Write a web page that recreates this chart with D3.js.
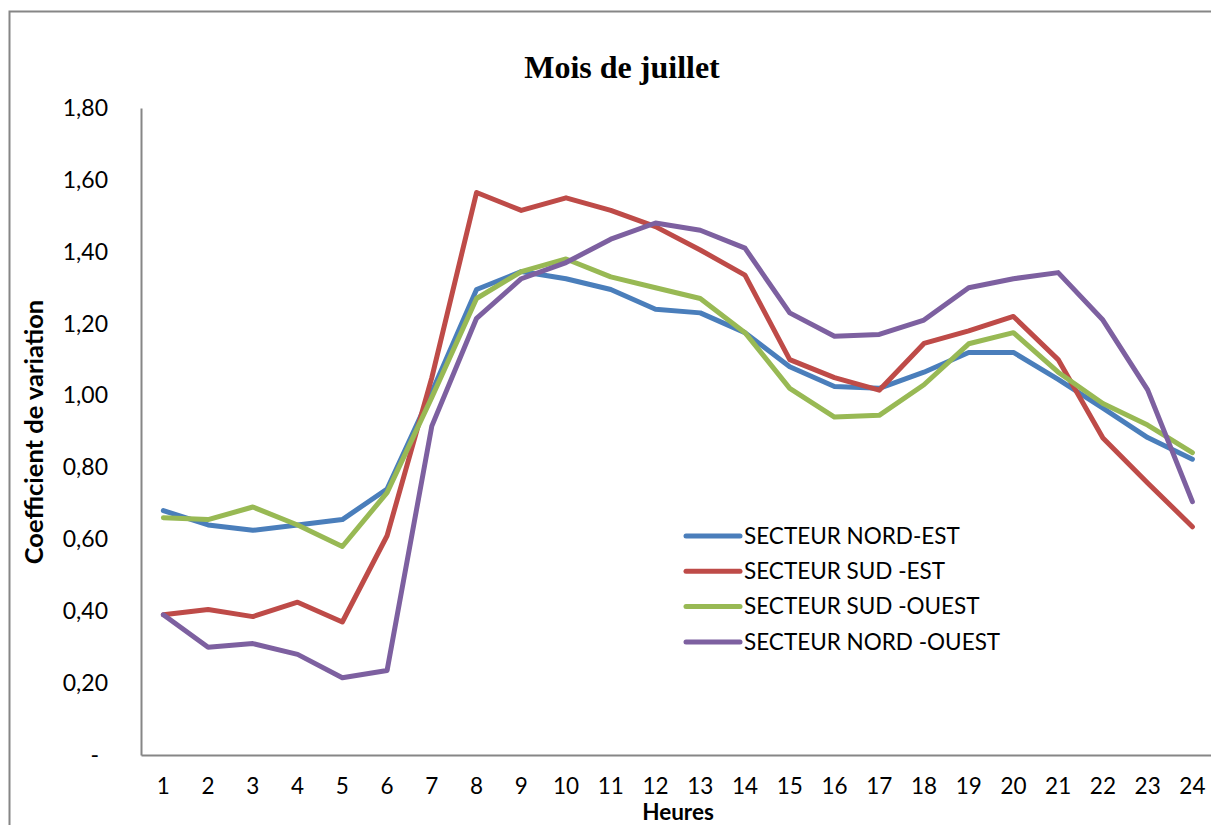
<!DOCTYPE html>
<html>
<head>
<meta charset="utf-8">
<script src="https://cdn.jsdelivr.net/npm/d3@7"></script>
<style>
  html, body { margin: 0; padding: 0; background: #fff; overflow: hidden; }
  svg { display: block; }
</style>
</head>
<body>
<div id="chart"></div>
<script>
// heures (categories) et coefficients par secteur
const heures = d3.range(1, 25).map(String);
const nordEst = [0.68, 0.64, 0.625, 0.64, 0.655, 0.74, 1.01, 1.295, 1.345, 1.325, 1.295, 1.24,
  1.23, 1.175, 1.08, 1.025, 1.02, 1.065, 1.12, 1.12, 1.045, 0.965, 0.883, 0.823];
const sudEst = [0.39, 0.405, 0.385, 0.425, 0.37, 0.61, 1.05, 1.565, 1.515, 1.55, 1.515, 1.47,
  1.405, 1.335, 1.10, 1.05, 1.015, 1.145, 1.18, 1.22, 1.10, 0.882, 0.757, 0.635];
const sudOuest = [0.66, 0.655, 0.69, 0.64, 0.58, 0.73, 0.995, 1.27, 1.345, 1.38, 1.33, 1.30,
  1.27, 1.175, 1.02, 0.94, 0.945, 1.03, 1.144, 1.175, 1.065, 0.978, 0.918, 0.841];
const nordOuest = [0.39, 0.30, 0.31, 0.28, 0.215, 0.235, 0.915, 1.215, 1.325, 1.37, 1.435, 1.48,
  1.46, 1.41, 1.23, 1.165, 1.17, 1.21, 1.30, 1.325, 1.342, 1.21, 1.016, 0.705];
const seriesNames = ['SECTEUR NORD-EST', 'SECTEUR SUD -EST', 'SECTEUR SUD -OUEST', 'SECTEUR NORD -OUEST'];
const yTicks = [0, 0.2, 0.4, 0.6, 0.8, 1.0, 1.2, 1.4, 1.6, 1.8];

const colors = ['#4A7EBB', '#BE4B48', '#98B954', '#7D60A0'];
const series = [nordEst, sudEst, sudOuest, nordOuest].map((values, i) => ({
  name: seriesNames[i], color: colors[i], values
}));

const width = 1211, height = 825;
const labelFont = 'Lato, "Open Sans", sans-serif';

const svg = d3.select('#chart').append('svg')
  .attr('width', width)
  .attr('height', height);

// cadre du graphique
svg.append('rect')
  .attr('x', 9.5).attr('y', 11.5)
  .attr('width', 1300).attr('height', 900)
  .attr('fill', '#fff')
  .attr('stroke', '#868686')
  .attr('stroke-width', 2);

const x = d3.scaleBand()
  .domain(heures)
  .range([141, 141 + 24 * 44.74])
  .padding(0);

const y = d3.scaleLinear()
  .domain([0, 1.8])
  .range([755, 108]);

const fr = d3.formatLocale({ decimal: ',', thousands: ' ', grouping: [3], currency: ['', '€'] });
const fmt = fr.format('.2f');

// axe Y
const yAxis = svg.append('g')
  .attr('transform', 'translate(141,0)')
  .call(d3.axisLeft(y).tickValues(yTicks).tickSize(0).tickPadding(33)
    .tickFormat(d => d === 0 ? '-' : fmt(d)));
yAxis.select('.domain').attr('stroke', '#868686').attr('stroke-width', 2);
yAxis.selectAll('text')
  .attr('font-family', labelFont)
  .attr('font-size', 23)
  .attr('fill', '#000')
  .attr('dx', d => d === 0 ? -9 : 0);

// axe X
const xAxis = svg.append('g')
  .attr('transform', 'translate(0,755)')
  .call(d3.axisBottom(x).tickSize(0).tickPadding(23));
xAxis.select('.domain').attr('stroke', '#868686').attr('stroke-width', 2);
xAxis.selectAll('text')
  .attr('font-family', labelFont)
  .attr('font-size', 22.5)
  .attr('fill', '#000');

// lignes
const line = d3.line()
  .x((d, i) => x(heures[i]) + x.bandwidth() / 2)
  .y(d => y(d));

svg.append('g').selectAll('path')
  .data(series)
  .join('path')
  .attr('d', d => line(d.values))
  .attr('fill', 'none')
  .attr('stroke', d => d.color)
  .attr('stroke-width', 5)
  .attr('stroke-linejoin', 'round')
  .attr('stroke-linecap', 'round');

// titres
svg.append('text')
  .attr('x', 622).attr('y', 78)
  .attr('text-anchor', 'middle')
  .attr('font-family', '"Liberation Serif", "Times New Roman", serif')
  .attr('font-weight', 'bold')
  .attr('font-size', 32)
  .text('Mois de juillet');

svg.append('text')
  .attr('transform', 'translate(43,432) rotate(-90)')
  .attr('text-anchor', 'middle')
  .attr('font-family', labelFont)
  .attr('font-weight', 'bold')
  .attr('font-size', 25.5)
  .text('Coefficient de variation');

svg.append('text')
  .attr('x', 678).attr('y', 820)
  .attr('text-anchor', 'middle')
  .attr('font-family', labelFont)
  .attr('font-weight', 'bold')
  .attr('font-size', 22.5)
  .text('Heures');

// légende
const legend = svg.append('g').attr('transform', 'translate(686,536)');
const item = legend.selectAll('g')
  .data(series)
  .join('g')
  .attr('transform', (d, i) => `translate(0,${i * 35.3})`);
item.append('line')
  .attr('x1', 0).attr('x2', 54)
  .attr('stroke', d => d.color)
  .attr('stroke-width', 5)
  .attr('stroke-linecap', 'round');
item.append('text')
  .attr('x', 58).attr('dy', '0.35em')
  .attr('font-family', labelFont)
  .attr('font-size', 22.5)
  .text(d => d.name);
</script>
</body>
</html>
